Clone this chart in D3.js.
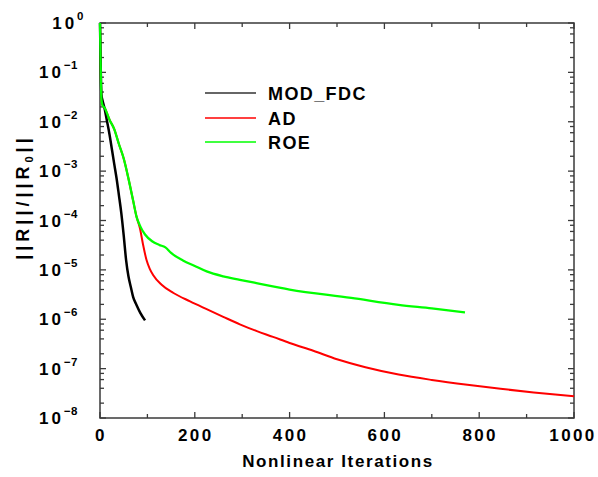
<!DOCTYPE html>
<html>
<head>
<meta charset="utf-8">
<script src="https://cdn.jsdelivr.net/npm/d3@7"></script>
<style>
  body { margin: 0; background: #fff; }
  .chart text { font-family: "Liberation Sans", Arial, sans-serif; font-weight: bold; fill: #000; }
</style>
</head>
<body>
<div class="chart"></div>
<script>
// residual history (iteration, ||R||/||R0||)
const modFdcIter = [0, 1, 3, 5, 10, 15, 20, 25, 30, 35, 40, 45, 50, 55, 60, 65, 70, 77, 85, 95];
const modFdcRes = [1, 0.25, 0.035, 0.028, 0.018, 0.01, 5.6e-3, 2.8e-3, 1.4e-3, 7.1e-4, 3.2e-4,
  1.4e-4, 5.0e-5, 1.6e-5, 7.4e-6, 4.5e-6, 2.8e-6, 1.95e-6, 1.35e-6, 9.5e-7];

const adIter = [0, 1, 3, 5, 10, 20, 30, 40, 50, 60, 70, 77, 84, 91, 98, 105, 112, 130, 155, 190,
  225, 260, 295, 331, 365, 400, 450, 500, 560, 630, 700, 775, 845, 915, 1000];
const adRes = [1, 0.25, 0.028, 0.022, 0.019, 0.011, 7.1e-3, 3.5e-3, 1.8e-3, 7.1e-4, 2.5e-4, 1.2e-4,
  7.1e-5, 3.2e-5, 1.6e-5, 1.05e-5, 7.9e-6, 5.0e-6, 3.4e-6, 2.3e-6,
  1.6e-6, 1.12e-6, 7.9e-7, 5.75e-7, 4.4e-7, 3.3e-7, 2.3e-7, 1.55e-7, 1.07e-7, 7.6e-8, 5.9e-8, 4.7e-8, 3.9e-8, 3.3e-8, 2.75e-8];

const roeIter = [0, 1, 3, 5, 10, 20, 30, 40, 50, 60, 70, 77, 85, 95, 110, 125, 138, 150, 175, 200,
  225, 260, 295, 330, 400, 530, 630, 700, 770];
const roeRes = [1, 0.25, 0.028, 0.022, 0.019, 0.011, 7.1e-3, 3.5e-3, 1.8e-3, 7.1e-4, 2.5e-4, 1.2e-4,
  7.6e-5, 5.2e-5, 3.8e-5, 3.2e-5, 2.85e-5, 2.2e-5, 1.55e-5, 1.2e-5,
  9.3e-6, 7.4e-6, 6.3e-6, 5.4e-6, 4.0e-6, 2.7e-6, 1.95e-6, 1.66e-6, 1.38e-6];

const seriesNames = ['MOD_FDC', 'AD', 'ROE'];
const seriesColors = ['#000000', '#ff0000', '#00ff00'];

const xTicks = [0, 200, 400, 600, 800, 1000];
const yExponents = [0, -1, -2, -3, -4, -5, -6, -7, -8];

const xLabel = 'Nonlinear Iterations';

const $chart = d3.select('.chart');

// dimensions
const WIDTH = 598;
const HEIGHT = 477;
const LEFT = 100;
const RIGHT = 574;
const TOP = 23;
const BOTTOM = 418;
const MAJOR = 6;
const MINOR = 4;

const scaleX = d3.scaleLinear().domain([0, 1000]).range([LEFT, RIGHT]);
const scaleY = d3.scaleLog().domain([1e-8, 1]).range([BOTTOM, TOP]);

const series = [
  { name: seriesNames[0], color: seriesColors[0], width: 2.5, pts: modFdcIter.map((d, i) => [d, modFdcRes[i]]) },
  { name: seriesNames[1], color: seriesColors[1], width: 2, pts: adIter.map((d, i) => [d, adRes[i]]) },
  { name: seriesNames[2], color: seriesColors[2], width: 2.3, pts: roeIter.map((d, i) => [d, roeRes[i]]) },
];

const $svg = $chart.append('svg').attr('width', WIDTH).attr('height', HEIGHT);

// frame + ticks
const $axis = $svg.append('g').attr('class', 'g-axis');
const axisColor = '#3a3a3a';

const xMinor = scaleX.ticks(10).filter((d) => !xTicks.includes(d));
const yMajor = yExponents.map((e) => Math.pow(10, e));
const yMinor = scaleY.ticks().filter((d) => {
  const m = Math.round(d / Math.pow(10, Math.floor(Math.log10(d) + 1e-9)));
  return [2, 4, 6, 8].includes(m);
});

const tickData = [];
xTicks.forEach((d) => tickData.push({ x: scaleX(d), len: MAJOR, dir: 'x' }));
xMinor.forEach((d) => tickData.push({ x: scaleX(d), len: MINOR, dir: 'x' }));
yMajor.forEach((d) => tickData.push({ y: scaleY(d), len: MAJOR, dir: 'y' }));
yMinor.forEach((d) => tickData.push({ y: scaleY(d), len: MINOR, dir: 'y' }));

tickData.forEach((t) => {
  if (t.dir === 'x') {
    $axis.append('line').attr('x1', t.x).attr('x2', t.x).attr('y1', BOTTOM).attr('y2', BOTTOM - t.len);
    $axis.append('line').attr('x1', t.x).attr('x2', t.x).attr('y1', TOP).attr('y2', TOP + t.len);
  } else {
    $axis.append('line').attr('x1', LEFT).attr('x2', LEFT + t.len).attr('y1', t.y).attr('y2', t.y);
    $axis.append('line').attr('x1', RIGHT).attr('x2', RIGHT - t.len).attr('y1', t.y).attr('y2', t.y);
  }
});
$axis.selectAll('line').attr('stroke', axisColor).attr('stroke-width', 1.3);

$axis.append('rect')
  .attr('x', LEFT).attr('y', TOP)
  .attr('width', RIGHT - LEFT).attr('height', BOTTOM - TOP)
  .attr('fill', 'none').attr('stroke', axisColor).attr('stroke-width', 1.5);

// x tick labels
$axis.selectAll('.x-label')
  .data(xTicks)
  .join('text')
  .attr('class', 'x-label')
  .attr('x', (d) => scaleX(d) + (d === 1000 ? -1 : 1))
  .attr('y', 441)
  .attr('text-anchor', 'middle')
  .style('font-size', '17px')
  .style('letter-spacing', '2.4px')
  .text((d) => d);

// y tick labels: 10 with superscript exponent
const $yl = $axis.selectAll('.y-label')
  .data(yExponents)
  .join('text')
  .attr('class', 'y-label')
  .attr('x', (d) => (d === 0 ? 84 : 78))
  .attr('y', (d) => scaleY(Math.pow(10, d)) + 6)
  .attr('text-anchor', 'end');
$yl.append('tspan').style('font-size', '17px').style('letter-spacing', '3px').text('10');
$yl.append('tspan')
  .attr('dy', -9)
  .style('font-size', '11.5px')
  .style('letter-spacing', '0.5px')
  .text((d) => (d === 0 ? '0' : '\u2212' + (-d)));

// axis titles
$svg.append('text')
  .attr('x', (LEFT + RIGHT) / 2 + 1)
  .attr('y', 467)
  .attr('text-anchor', 'middle')
  .style('font-size', '17px')
  .style('letter-spacing', '1.6px')
  .text(xLabel);

const $ytitle = $svg.append('text')
  .attr('transform', 'translate(28.5, 197) rotate(-90)')
  .attr('text-anchor', 'middle')
  .style('font-size', '18px')
  .style('letter-spacing', '4px');
$ytitle.append('tspan').text('||R||/||R');
$ytitle.append('tspan').attr('dy', 4).style('font-size', '11px').text('0');
$ytitle.append('tspan').attr('dy', -4).text('||');

// curves
const line = d3.line().x((d) => scaleX(d[0])).y((d) => scaleY(d[1])).curve(d3.curveMonotoneX);
const $vis = $svg.append('g').attr('class', 'g-vis');
[series[1], series[0], series[2]].forEach((s) => {
  $vis.append('path')
    .datum(s.pts)
    .attr('d', line)
    .attr('fill', 'none')
    .attr('stroke', s.color)
    .attr('stroke-width', s.width)
    .attr('stroke-linejoin', 'round');
});

// legend
const $legend = $svg.append('g').attr('class', 'g-legend');
const legendY = [93, 118, 142];
series.forEach((s, i) => {
  $legend.append('line')
    .attr('x1', 205).attr('x2', 256)
    .attr('y1', legendY[i]).attr('y2', legendY[i])
    .attr('stroke', i === 0 ? '#333' : s.color)
    .attr('stroke-width', 1.3);
  $legend.append('text')
    .attr('x', 268)
    .attr('y', legendY[i] + 6.5)
    .style('font-size', '18px')
    .style('letter-spacing', '1.4px')
    .text(s.name);
});
</script>
</body>
</html>
